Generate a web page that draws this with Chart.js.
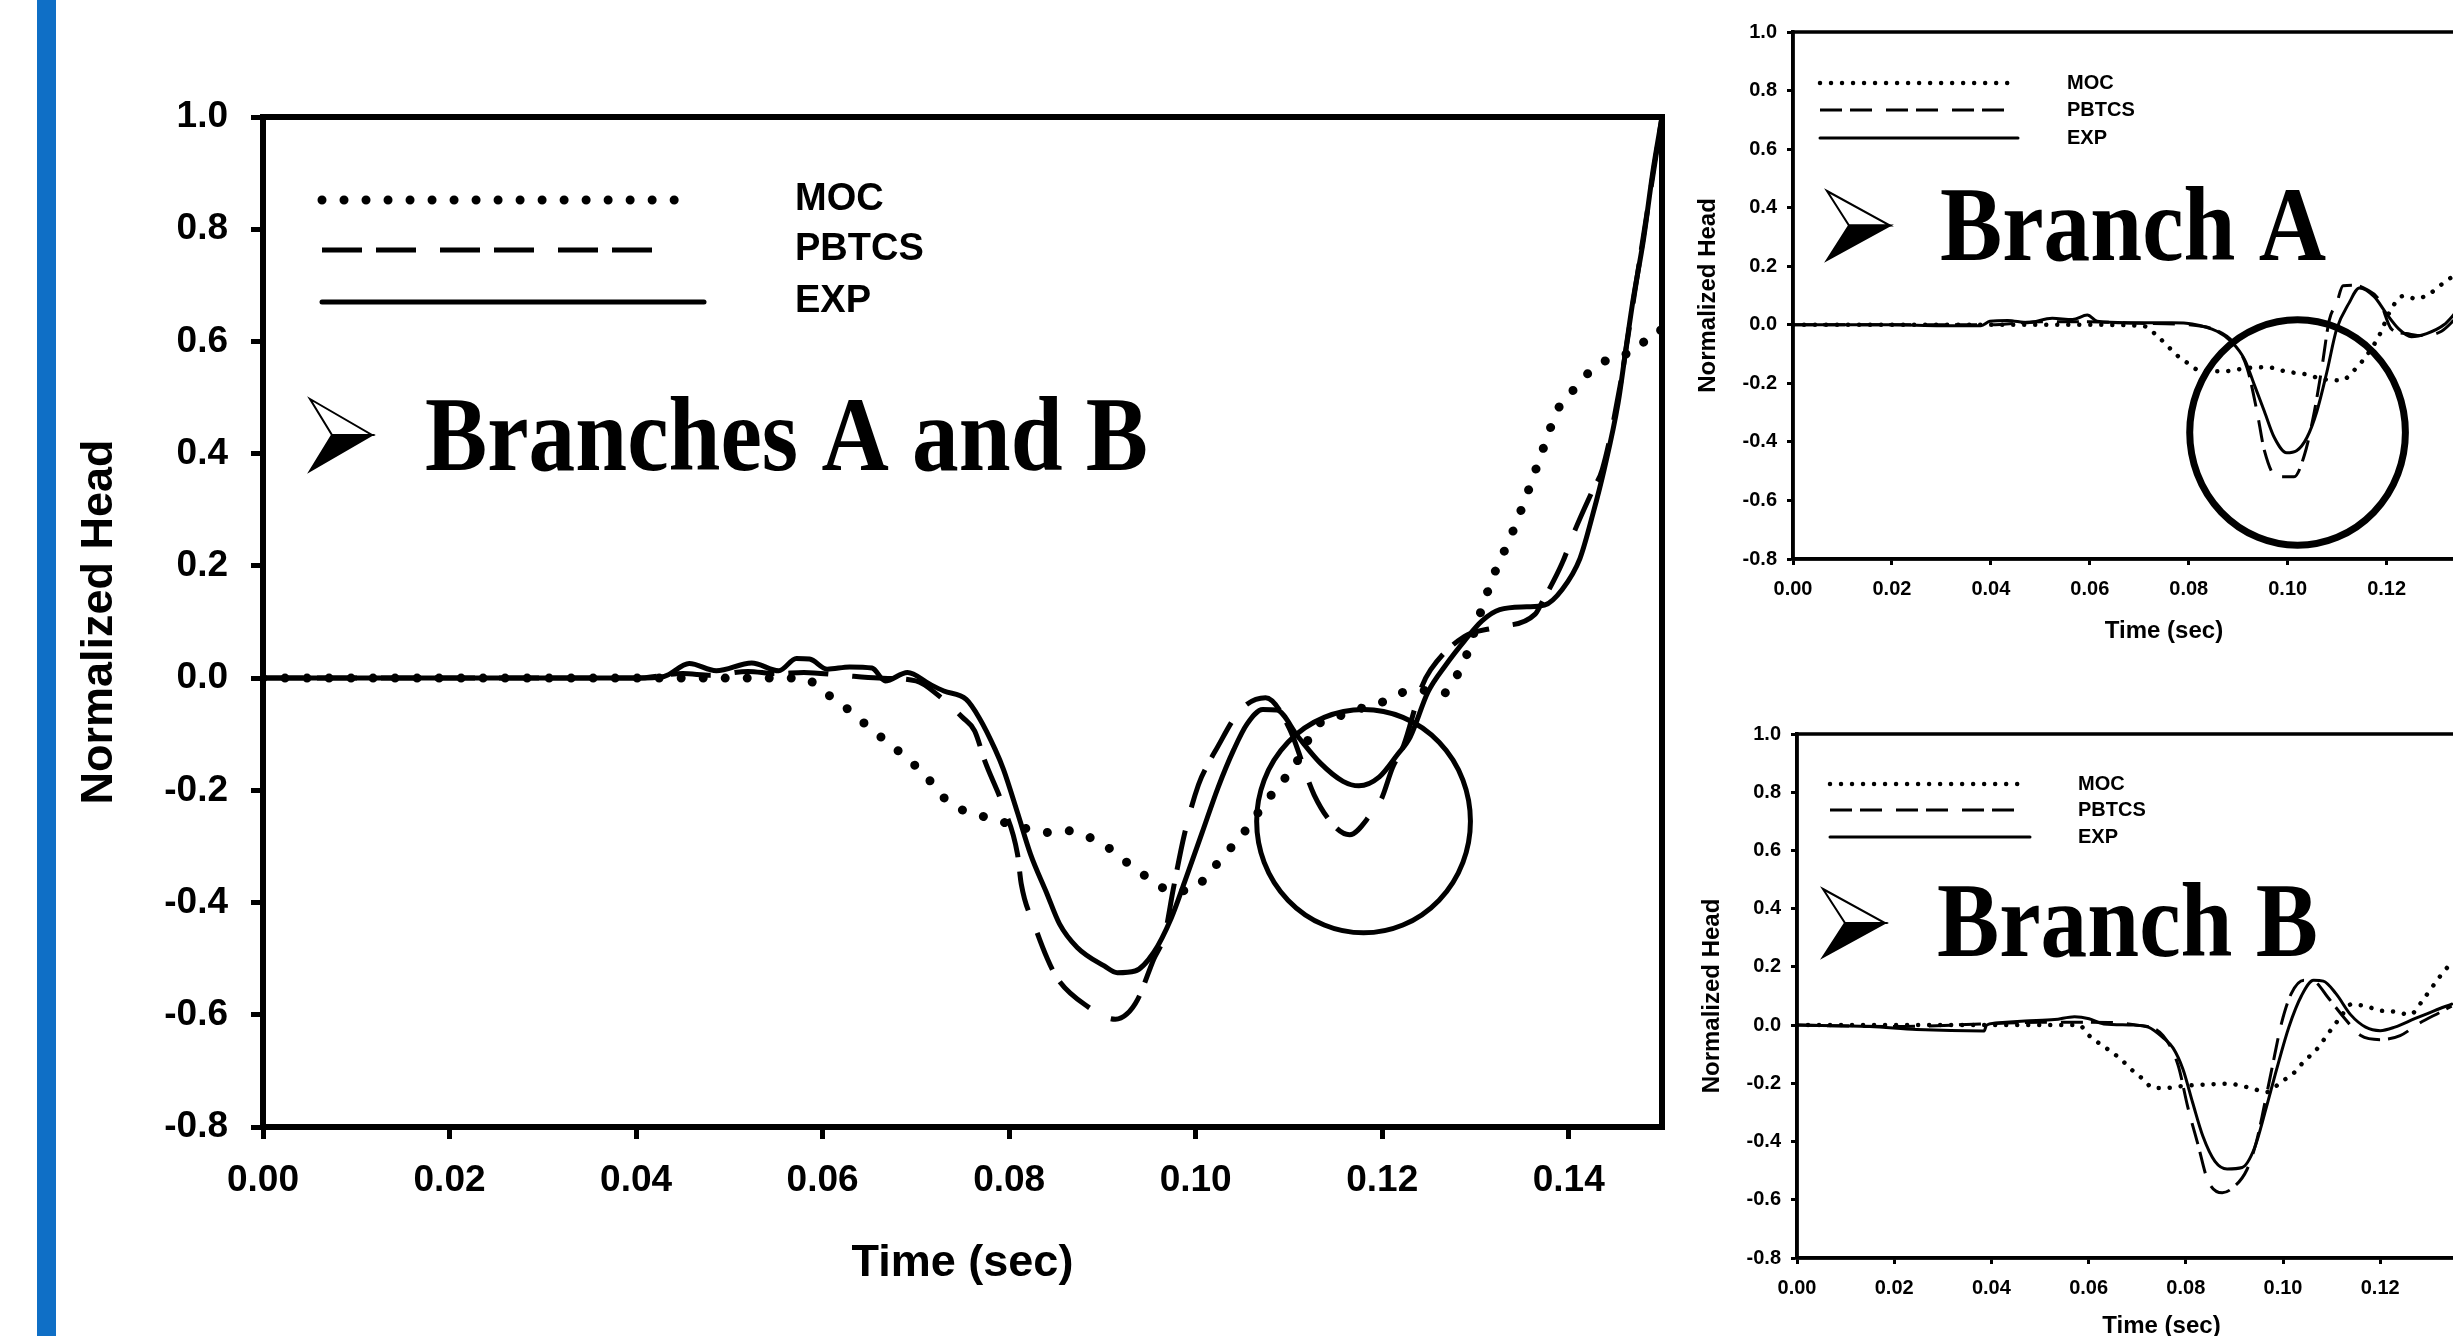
<!DOCTYPE html>
<html><head><meta charset="utf-8">
<script src="https://cdn.jsdelivr.net/npm/chart.js@4.4.1/dist/chart.umd.min.js"></script>
<style>
html,body{margin:0;padding:0;background:#fff;width:2453px;height:1336px;overflow:hidden;position:relative;}
#bar{position:absolute;left:37px;top:0;width:19px;height:1336px;background:#0F6FC6;}
canvas{position:absolute;}
</style></head><body>
<div id="bar"></div>
<canvas id="c1" width="1700" height="1336" style="left:0;top:0"></canvas>
<canvas id="c2" width="900" height="670" style="left:1680px;top:0"></canvas>
<canvas id="c3" width="900" height="700" style="left:1680px;top:680px"></canvas>
<script>
// ---------- DATA ----------
const seriesNames = ['MOC', 'PBTCS', 'EXP'];
const xTitle = 'Time (sec)';
const yTitle = 'Normalized Head';
const chartTitles = ['Branches A and B', 'Branch A', 'Branch B'];

// Branches A and B (main chart)
const mainMocX = [0, 0.02, 0.04, 0.058, 0.0600, 0.0623, 0.0645, 0.0667, 0.0690, 0.0712, 0.0730, 0.0751, 0.0773, 0.0794, 0.0818, 0.0840, 0.0862, 0.0885, 0.0907, 0.0929, 0.0951, 0.0974, 0.0995, 0.1017, 0.1037, 0.1055, 0.1072, 0.1089, 0.1106, 0.1130, 0.1152, 0.1175, 0.1197, 0.1219, 0.1240, 0.1264, 0.1278, 0.1290, 0.1304, 0.1319, 0.1339, 0.1356, 0.1372, 0.1389, 0.1407, 0.1427, 0.1450, 0.1473, 0.1492, 0.1500];
const mainMocY = [0, 0, 0, 0, -0.023, -0.050, -0.081, -0.111, -0.142, -0.177, -0.213, -0.236, -0.247, -0.257, -0.268, -0.275, -0.272, -0.283, -0.303, -0.332, -0.358, -0.379, -0.378, -0.342, -0.304, -0.268, -0.228, -0.192, -0.156, -0.085, -0.069, -0.055, -0.045, -0.027, -0.021, -0.029, -0.001, 0.039, 0.110, 0.181, 0.257, 0.331, 0.406, 0.481, 0.517, 0.553, 0.573, 0.585, 0.619, 0.620];
const mainPbtcsX = [0, 0.02, 0.04, 0.045, 0.048, 0.052, 0.055, 0.058, 0.062, 0.066, 0.070, 0.0725, 0.0750, 0.0763, 0.0774, 0.0794, 0.0809, 0.0813, 0.0828, 0.0841, 0.0852, 0.0883, 0.0914, 0.0926, 0.0938, 0.0955, 0.0967, 0.0976, 0.0988, 0.1003, 0.1014, 0.1021, 0.1048, 0.1075, 0.1100, 0.1127, 0.1149, 0.1165, 0.1189, 0.1199, 0.1211, 0.1223, 0.1242, 0.1252, 0.1288, 0.1321, 0.1364, 0.1371, 0.1393, 0.1407, 0.1426, 0.1436, 0.1455, 0.1470, 0.1485, 0.1500];
const mainPbtcsY = [0, 0, 0, 0.008, 0.005, 0.012, 0.008, 0.010, 0.005, 0.000, -0.005, -0.032, -0.070, -0.094, -0.148, -0.230, -0.314, -0.367, -0.444, -0.500, -0.536, -0.584, -0.608, -0.599, -0.572, -0.501, -0.456, -0.376, -0.278, -0.190, -0.151, -0.130, -0.057, -0.035, -0.088, -0.208, -0.264, -0.279, -0.240, -0.216, -0.160, -0.120, -0.017, 0.015, 0.074, 0.090, 0.114, 0.134, 0.205, 0.265, 0.336, 0.372, 0.520, 0.680, 0.840, 1.000];
const mainExpX = [0, 0.02, 0.04, 0.043, 0.0457, 0.0486, 0.0524, 0.0553, 0.0572, 0.0586, 0.0605, 0.0629, 0.0653, 0.0667, 0.0691, 0.0715, 0.0730, 0.0754, 0.0768, 0.0785, 0.0794, 0.0809, 0.0823, 0.0840, 0.0854, 0.0873, 0.0902, 0.0916, 0.0935, 0.0955, 0.0974, 0.0988, 0.1007, 0.1024, 0.1041, 0.1055, 0.1072, 0.1087, 0.1110, 0.1134, 0.1158, 0.1175, 0.1197, 0.1216, 0.1230, 0.1249, 0.1268, 0.1288, 0.1307, 0.1326, 0.1355, 0.1374, 0.1393, 0.1412, 0.1426, 0.1438, 0.1453, 0.1462, 0.1469, 0.1480, 0.1490, 0.1500];
const mainExpY = [0, 0, 0, 0.003, 0.026, 0.013, 0.027, 0.013, 0.035, 0.034, 0.016, 0.020, 0.018, -0.005, 0.010, -0.011, -0.023, -0.038, -0.071, -0.127, -0.163, -0.240, -0.314, -0.382, -0.438, -0.480, -0.513, -0.525, -0.522, -0.489, -0.427, -0.364, -0.275, -0.195, -0.127, -0.082, -0.056, -0.057, -0.105, -0.152, -0.184, -0.192, -0.176, -0.137, -0.105, -0.025, 0.023, 0.066, 0.102, 0.122, 0.127, 0.130, 0.158, 0.213, 0.293, 0.372, 0.491, 0.595, 0.674, 0.780, 0.900, 1.000];

// Branch A
const aMocX = [0, 0.02, 0.04, 0.060, 0.071, 0.0731, 0.0754, 0.0776, 0.0797, 0.0822, 0.0867, 0.0918, 0.0958, 0.0998, 0.1039, 0.1069, 0.1109, 0.1134, 0.1160, 0.1185, 0.1210, 0.1235, 0.1260, 0.1291, 0.1321, 0.1345];
const aMocY = [0, 0, 0, 0, -0.005, -0.030, -0.067, -0.104, -0.130, -0.156, -0.159, -0.148, -0.145, -0.160, -0.170, -0.185, -0.190, -0.156, -0.104, -0.037, 0.056, 0.099, 0.089, 0.111, 0.151, 0.175];
const aPbtcsX = [0, 0.02, 0.04, 0.05, 0.06, 0.07, 0.08, 0.0857, 0.0890, 0.0918, 0.0938, 0.0953, 0.0978, 0.1013, 0.1034, 0.1054, 0.1069, 0.1084, 0.1099, 0.1112, 0.1135, 0.1160, 0.1185, 0.1210, 0.1240, 0.1271, 0.1311, 0.1340];
const aPbtcsY = [0, 0, 0, 0.010, 0.010, 0.005, 0, -0.020, -0.060, -0.148, -0.296, -0.430, -0.519, -0.519, -0.444, -0.296, -0.148, 0.015, 0.074, 0.133, 0.135, 0.120, 0.085, -0.015, -0.030, -0.037, -0.022, 0.022];
const aExpX = [0, 0.02, 0.03, 0.038, 0.0398, 0.0434, 0.0474, 0.0524, 0.0565, 0.0595, 0.0615, 0.0676, 0.0766, 0.0807, 0.0857, 0.0887, 0.0913, 0.0933, 0.0953, 0.0973, 0.0998, 0.1018, 0.1039, 0.1059, 0.1079, 0.1099, 0.1124, 0.1145, 0.1175, 0.1200, 0.1225, 0.1250, 0.1281, 0.1316, 0.1341];
const aExpY = [0, 0, -0.003, -0.003, 0.012, 0.015, 0.007, 0.022, 0.018, 0.033, 0.012, 0.007, 0.007, 0.003, -0.022, -0.059, -0.119, -0.207, -0.296, -0.385, -0.437, -0.430, -0.385, -0.296, -0.163, -0.015, 0.074, 0.126, 0.096, 0.037, -0.015, -0.041, -0.030, 0, 0.044];

// Branch B
const bMocX = [0, 0.02, 0.04, 0.058, 0.0601, 0.0642, 0.0665, 0.0687, 0.0713, 0.0733, 0.0758, 0.0794, 0.0845, 0.0885, 0.0916, 0.0941, 0.0966, 0.0997, 0.1022, 0.1043, 0.1068, 0.1093, 0.1119, 0.1141, 0.1170, 0.1200, 0.1230, 0.1261, 0.1291, 0.1322, 0.1347];
const bMocY = [0, 0, 0, 0, -0.036, -0.086, -0.115, -0.151, -0.187, -0.216, -0.216, -0.209, -0.204, -0.201, -0.209, -0.220, -0.230, -0.194, -0.165, -0.125, -0.086, -0.029, 0.029, 0.072, 0.065, 0.050, 0.046, 0.036, 0.094, 0.165, 0.216];
const bPbtcsX = [0, 0.02, 0.04, 0.05, 0.06, 0.07, 0.0753, 0.0784, 0.0804, 0.0825, 0.0845, 0.0875, 0.0895, 0.0926, 0.0946, 0.0961, 0.0977, 0.0997, 0.1017, 0.1043, 0.1063, 0.1093, 0.1124, 0.1160, 0.1200, 0.1241, 0.1281, 0.1322, 0.1347];
const bPbtcsY = [0, -0.005, 0.005, 0.010, 0.010, 0, -0.036, -0.137, -0.281, -0.410, -0.532, -0.576, -0.561, -0.496, -0.396, -0.281, -0.151, 0.007, 0.108, 0.154, 0.151, 0.094, 0.029, -0.036, -0.050, -0.036, 0.007, 0.043, 0.065];
const bExpX = [0, 0.015, 0.0246, 0.0385, 0.0390, 0.0408, 0.0469, 0.0530, 0.0571, 0.0601, 0.0631, 0.0692, 0.0723, 0.0753, 0.0774, 0.0794, 0.0814, 0.0835, 0.0860, 0.0885, 0.0916, 0.0941, 0.0966, 0.0987, 0.1012, 0.1038, 0.1063, 0.1083, 0.1109, 0.1139, 0.1170, 0.1200, 0.1230, 0.1271, 0.1312, 0.1347];
const bExpY = [0, -0.005, -0.015, -0.020, 0, 0.007, 0.014, 0.019, 0.029, 0.022, 0.004, 0, -0.007, -0.043, -0.079, -0.151, -0.266, -0.381, -0.468, -0.494, -0.489, -0.424, -0.281, -0.151, -0.007, 0.101, 0.154, 0.151, 0.108, 0.036, -0.007, -0.019, -0.007, 0.022, 0.050, 0.072];

// circled regions (data units: centre x, centre y, radius x, radius y)
const mainCircle = [0.118, -0.255, 0.01146, 0.199];
const aCircle = [0.1020, -0.368, 0.0218, 0.385];

// ---------- DRAWING ----------
const SANS = "'Liberation Sans', Arial, sans-serif";
const SERIF = "'Liberation Serif', 'Times New Roman', serif";

const decoPlugin = {
  id: 'deco',
  afterDraw(chart, args, o) {
    const {ctx, chartArea: a, scales: {x, y}} = chart;
    const L = a.left, T = a.top;
    ctx.save();
    ctx.strokeStyle = '#000'; ctx.fillStyle = '#000';
    ctx.setLineDash([]);
    ctx.lineWidth = o.frame;
    ctx.strokeRect(a.left, a.top, a.right - a.left, a.bottom - a.top);
    // legend
    chart.data.datasets.forEach((ds, i) => {
      const ly = T + o.legendY[i];
      ctx.save();
      ctx.lineWidth = ds.borderWidth;
      ctx.setLineDash(ds.borderDash || []);
      ctx.lineCap = ds.borderCapStyle || 'butt';
      ctx.beginPath(); ctx.moveTo(L + o.legendX0, ly); ctx.lineTo(L + o.legendX1[i], ly); ctx.stroke();
      ctx.restore();
      ctx.font = o.legendFont; ctx.textBaseline = 'middle'; ctx.textAlign = 'left';
      ctx.fillText(ds.label, L + o.labelX, ly);
    });
    // arrow bullet
    const ar = o.arrow;
    const ym = (ar.y0 + ar.y1) / 2;
    ctx.lineWidth = ar.w; ctx.lineJoin = 'miter';
    ctx.beginPath(); ctx.moveTo(L + ar.x0, T + ar.y0); ctx.lineTo(L + ar.x1, T + ym); ctx.lineTo(L + ar.xn, T + ym); ctx.closePath();
    ctx.fillStyle = '#fff'; ctx.fill(); ctx.stroke();
    ctx.beginPath(); ctx.moveTo(L + ar.xn, T + ym); ctx.lineTo(L + ar.x1, T + ym); ctx.lineTo(L + ar.x0, T + ar.y1); ctx.closePath();
    ctx.fillStyle = '#000'; ctx.fill(); ctx.stroke();
    // big title
    ctx.save();
    ctx.translate(L + o.title.x, T + o.title.base);
    ctx.scale(o.title.sx, 1);
    ctx.font = 'bold ' + o.title.size + 'px ' + SERIF;
    ctx.textBaseline = 'alphabetic'; ctx.textAlign = 'left'; ctx.fillStyle = '#000';
    ctx.fillText(o.title.text, 0, 0);
    ctx.restore();
    // circle
    if (o.circle) {
      const c = o.circle.data;
      const cx = x.getPixelForValue(c[0]), cy = y.getPixelForValue(c[1]);
      const rx = Math.abs(x.getPixelForValue(c[0] + c[2]) - cx);
      const ry = Math.abs(y.getPixelForValue(c[1] + c[3]) - cy);
      ctx.beginPath(); ctx.ellipse(cx, cy, rx, ry, 0, 0, Math.PI * 2);
      ctx.lineWidth = o.circle.w; ctx.stroke();
    }
    ctx.restore();
  }
};

function pts(xs, ys) { return xs.map((v, k) => ({x: v, y: ys[k]})); }

function makeChart(id, series, cfg) {
  return new Chart(document.getElementById(id), {
    type: 'line',
    data: {
      datasets: series.map((s, i) => ({
        label: seriesNames[i], data: s,
        borderColor: '#000', backgroundColor: '#000',
        borderWidth: cfg.lw[i], borderDash: cfg.dash[i], borderCapStyle: cfg.cap[i],
        borderJoinStyle: 'round', pointRadius: 0, fill: false,
        cubicInterpolationMode: 'monotone'
      }))
    },
    options: {
      responsive: false, animation: false, devicePixelRatio: 1,
      layout: {padding: cfg.pad},
      plugins: {legend: {display: false}, tooltip: {enabled: false}, deco: cfg.deco},
      scales: {
        x: {
          type: 'linear', min: 0, max: 0.15,
          afterFit: s => { s.height = cfg.xh; },
          ticks: {stepSize: 0.02, includeBounds: false, autoSkip: false, maxRotation: 0, minRotation: 0,
            padding: cfg.xpad, color: '#000', font: {family: SANS, weight: 'bold', size: cfg.tick},
            callback: v => v.toFixed(2)},
          grid: {display: true, drawOnChartArea: false, drawTicks: true, tickLength: cfg.tl, tickWidth: cfg.tw, tickColor: '#000'},
          border: {display: true, width: cfg.bw, color: '#000'},
          title: {display: true, text: xTitle, color: '#000', font: {family: SANS, weight: 'bold', size: cfg.title},
            padding: {top: 0, bottom: cfg.xtp}}
        },
        y: {
          type: 'linear', min: -0.8, max: 1.0,
          afterFit: s => { s.width = cfg.yw; },
          ticks: {stepSize: 0.2, includeBounds: false, autoSkip: false,
            padding: cfg.ypad, color: '#000', font: {family: SANS, weight: 'bold', size: cfg.tick},
            callback: v => v.toFixed(1)},
          grid: {display: true, drawOnChartArea: false, drawTicks: true, tickLength: cfg.tl, tickWidth: cfg.tw, tickColor: '#000'},
          border: {display: true, width: cfg.bw, color: '#000'},
          title: {display: true, text: yTitle, color: '#000', font: {family: SANS, weight: 'bold', size: cfg.title},
            padding: {top: cfg.ytp, bottom: 0}}
        }
      }
    },
    plugins: [decoPlugin]
  });
}

// main chart
makeChart('c1', [pts(mainMocX, mainMocY), pts(mainPbtcsX, mainPbtcsY), pts(mainExpX, mainExpY)], {
  lw: [9, 5, 5], dash: [[0.01, 22], [40, 14, 40, 24], []], cap: ['round', 'butt', 'round'],
  pad: {left: 0, top: 117, right: 38, bottom: 0},
  xh: 209, yw: 263, xpad: 20, ypad: 23, tick: 37, title: 45, xtp: 45, ytp: 73,
  tl: 12, tw: 5, bw: 6,
  deco: {
    frame: 6, legendX0: 59, legendX1: [421, 410, 441], legendY: [83, 133, 185], labelX: 532,
    legendFont: 'bold 38px ' + SANS,
    arrow: {x0: 47, x1: 109, xn: 69, y0: 282, y1: 354, w: 2},
    title: {text: chartTitles[0], x: 162, base: 353, size: 106, sx: 0.88},
    circle: {data: mainCircle, w: 5}
  }
});

// Branch A
makeChart('c2', [pts(aMocX, aMocY), pts(aPbtcsX, aPbtcsY), pts(aExpX, aExpY)], {
  lw: [4.5, 3, 3], dash: [[0.01, 11], [22, 8, 22, 14], []], cap: ['round', 'butt', 'round'],
  pad: {left: 0, top: 32, right: 45, bottom: 0},
  xh: 111, yw: 113, xpad: 12, ypad: 10, tick: 20, title: 24, xtp: 24, ytp: 14,
  tl: 6, tw: 3, bw: 3.5,
  deco: {
    frame: 3.5, legendX0: 27, legendX1: [217, 212, 225], legendY: [51, 78, 106], labelX: 274,
    legendFont: 'bold 20px ' + SANS,
    arrow: {x0: 34, x1: 97, xn: 56, y0: 159, y1: 228, w: 2},
    title: {text: chartTitles[1], x: 147, base: 228, size: 106, sx: 0.88},
    circle: {data: aCircle, w: 7}
  }
});

// Branch B
makeChart('c3', [pts(bMocX, bMocY), pts(bPbtcsX, bPbtcsY), pts(bExpX, bExpY)], {
  lw: [4.5, 3, 3], dash: [[0.01, 11], [22, 8, 22, 14], []], cap: ['round', 'butt', 'round'],
  pad: {left: 0, top: 54, right: 54, bottom: 0},
  xh: 122, yw: 117, xpad: 12, ypad: 10, tick: 20, title: 24, xtp: 39, ytp: 18,
  tl: 6, tw: 3, bw: 3.5,
  deco: {
    frame: 3.5, legendX0: 33, legendX1: [224, 218, 233], legendY: [50, 76, 103], labelX: 281,
    legendFont: 'bold 20px ' + SANS,
    arrow: {x0: 26, x1: 88, xn: 48, y0: 155, y1: 223, w: 2},
    title: {text: chartTitles[2], x: 140, base: 222, size: 106, sx: 0.88},
    circle: null
  }
});
</script>
</body></html>
